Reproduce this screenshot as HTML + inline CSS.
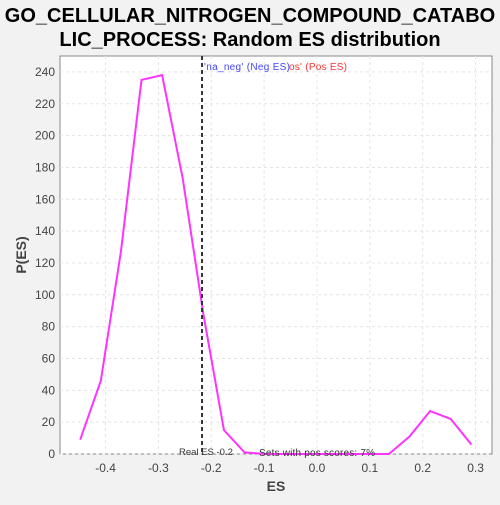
<!DOCTYPE html>
<html><head><meta charset="utf-8"><style>
body{margin:0;background:#f2f2f2;width:500px;height:500px;overflow:hidden;font-family:"Liberation Sans","DejaVu Sans",sans-serif}
</style></head><body>
<svg id="c" width="500" height="500" xmlns="http://www.w3.org/2000/svg">
<text x="250" y="22" text-anchor="middle" font-size="20" font-weight="bold" fill="#000">GO_CELLULAR_NITROGEN_COMPOUND_CATABO</text>
<text x="250" y="46" text-anchor="middle" font-size="20" font-weight="bold" fill="#000">LIC_PROCESS: Random ES distribution</text>
<rect x="60" y="56" width="432" height="398" fill="#fff" stroke="#888"/>
<g id="grid"></g><g id="ticks"></g><g id="series"></g>
<text x="276" y="491" text-anchor="middle" font-size="14" font-weight="bold" fill="#444">ES</text>
<text transform="translate(26,255) rotate(-90)" text-anchor="middle" font-size="14" font-weight="bold" fill="#444">P(ES)</text>
<text x="204" y="70" font-size="10" fill="#4444ff" textLength="86">'na_neg' (Neg ES)</text>
<text x="289" y="70" font-size="10" fill="#ff3333" textLength="58">os' (Pos ES)</text>
<text x="179" y="455" font-size="9.5" fill="#333">Real ES -0.2</text>
<text x="259" y="456" font-size="10" fill="#333" textLength="116">Sets with pos scores: 7%</text>
</svg>
<script>
const esValues=[-0.448,-0.409,-0.371,-0.332,-0.293,-0.254,-0.215,-0.176,-0.137,-0.098,-0.059,-0.020,0.019,0.058,0.097,0.136,0.175,0.214,0.253,0.292];
const pValues=[9,46,127,235,238,173,88,15,1,0,0,0,0,0,0,0,11,27,22,6];
const xTicks=[-0.4,-0.3,-0.2,-0.1,0.0,0.1,0.2,0.3];
const yTicks=[0,20,40,60,80,100,120,140,160,180,200,220,240];
const realES=-0.2175;
const X=v=>317+v*528.6, Y=v=>454-v*1.592;
const NS="http://www.w3.org/2000/svg";
function mk(t,a,p){const e=document.createElementNS(NS,t);for(const k in a)e.setAttribute(k,a[k]);p.appendChild(e);return e;}
const g=document.getElementById('grid'),tk=document.getElementById('ticks'),s=document.getElementById('series');
xTicks.forEach(v=>{
 const l=mk('line',{x1:X(v),x2:X(v),y1:56,y2:454,stroke:'#e4e4e4','stroke-dasharray':'3,3'},g);
 
 
 const t=mk('text',{x:X(v),y:472,'text-anchor':'middle','font-size':12,fill:'#444'},tk);t.textContent=v.toFixed(1);
 
 
});
yTicks.forEach(v=>{
 const l=mk('line',{x1:60,x2:492,y1:Y(v),y2:Y(v),stroke:'#e4e4e4','stroke-dasharray':'3,3'},g);
 
 
 const t=mk('text',{x:55,y:Y(v)+4,'text-anchor':'end','font-size':12,fill:'#444'},tk);t.textContent=v;
 
 
});
const line=mk('polyline',{points:esValues.map((v,i)=>X(v)+','+Y(pValues[i])).join(' '),fill:'none',stroke:'#ff33ff','stroke-width':2},s);


const rl=mk('line',{x1:X(realES),x2:X(realES),y1:56,y2:454,stroke:'#333','stroke-width':2,'stroke-dasharray':'4,3'},s);


</script>
</body></html>
